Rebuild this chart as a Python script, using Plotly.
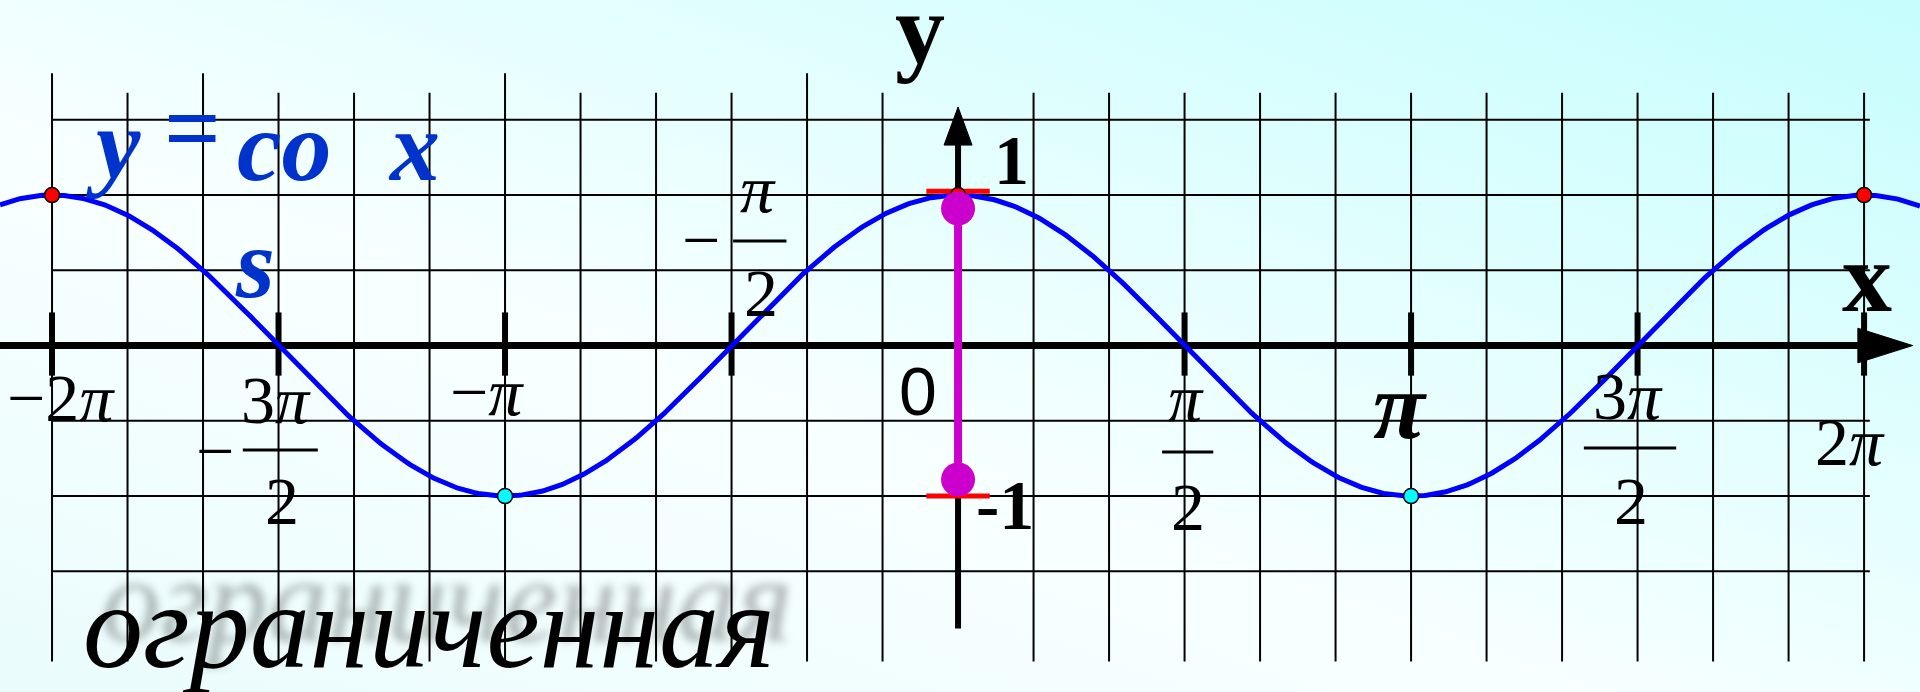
import base64

import numpy as np
import plotly.graph_objects as go


# ---------------------------------------------------
# Data
# ---------------------------------------------------

PI = np.pi

x_left, x_right = -6.644, 6.671
y_bottom, y_top = -2.302, 2.296

curve_x = np.linspace(x_left, x_right, 900)
curve_y = np.cos(curve_x)

max_x = [-2 * PI, 0, 2 * PI]
max_y = [1, 1, 1]
min_x = [-PI, PI]
min_y = [-1, -1]

# magenta segment showing the set of values
range_ends = [-0.89, 0.91]
bound_y = [-1.0, 1.025]

tick_pi = [-2, -1.5, -1, -0.5, 0.5, 1, 1.5, 2]
grid_k = [k for k in range(-12, 13) if k != 0]
grid_y = [-1.5, -1, -0.5, 0.5, 1, 1.5]
tall_k = [-12, -10, -6, -2]

SERIF = "Times New Roman"
BLUE = "#0000FF"
TITLE_BLUE = "#0033CC"
MAGENTA = "#CC00CC"

fig = go.Figure()


def seg(xs, ys, color="black", width=2):
    fig.add_trace(go.Scatter(
        x=xs, y=ys, mode="lines",
        line=dict(color=color, width=width),
        hoverinfo="skip"
    ))


def tri(xs, ys):
    fig.add_trace(go.Scatter(
        x=xs, y=ys, mode="lines", fill="toself",
        fillcolor="black", line=dict(color="black", width=1),
        hoverinfo="skip"
    ))


def txt(x, y, text, size, family=SERIF, color="black", **kw):
    fig.add_annotation(
        x=x, y=y, xref="x", yref="y", text=text, showarrow=False,
        xanchor="center", yanchor="middle",
        font=dict(family=family, size=size, color=color, **kw)
    )


# ---------------------------------------------------
# Grid
# ---------------------------------------------------

vx, vy = [], []
for k in grid_k:
    top = 1.81 if k in tall_k else 1.68
    vx += [k * PI / 6, k * PI / 6, None]
    vy += [-2.10, top, None]
seg(vx, vy)

hx, hy = [], []
for g in grid_y:
    hx += [-2 * PI, 2 * PI + 0.04, None]
    hy += [g, g, None]
seg(hx, hy)

# ---------------------------------------------------
# Axes
# ---------------------------------------------------

seg([x_left, 6.24], [0, 0], width=7)
tri([6.24, 6.62, 6.24, 6.24], [0.115, 0, -0.115, 0.115])

tx, ty = [], []
for t in tick_pi:
    tx += [t * PI, t * PI, None]
    ty += [-0.2, 0.22, None]
seg(tx, ty, width=6)

seg([0, 0], [-1.88, 1.34], width=6)
tri([-0.097, 0, 0.097, -0.097], [1.332, 1.585, 1.332, 1.332])

# ---------------------------------------------------
# Curve and points
# ---------------------------------------------------

seg(curve_x, curve_y, color=BLUE, width=5)

for b in bound_y:
    seg([-0.22, 0.22], [b, b], color="red", width=5)

fig.add_trace(go.Scatter(
    x=max_x, y=max_y, mode="markers",
    marker=dict(size=15, color="red", line=dict(color="black", width=1.5)),
    hoverinfo="skip"
))
fig.add_trace(go.Scatter(
    x=min_x, y=min_y, mode="markers",
    marker=dict(size=15, color="cyan", line=dict(color="black", width=1.5)),
    hoverinfo="skip"
))

fig.add_trace(go.Scatter(
    x=[0, 0], y=range_ends, mode="lines+markers",
    line=dict(color=MAGENTA, width=8),
    marker=dict(size=34, color=MAGENTA),
    hoverinfo="skip"
))

# ---------------------------------------------------
# Tick labels
# ---------------------------------------------------

PI_I = "<i>π</i>"
LS = 68


def bar(x0, x1, y):
    fig.add_shape(type="line", xref="x", yref="y", x0=x0, x1=x1, y0=y, y1=y,
                  line=dict(color="black", width=3))


txt(-6.22, -0.35, "−2" + PI_I, LS)

txt(-5.15, -0.70, "−", LS)
txt(-4.73, -0.36, "3" + PI_I, LS)
bar(-4.96, -4.44, -0.694)
txt(-4.69, -1.03, "2", LS)

txt(-3.27, -0.31, "−" + PI_I, LS)

txt(-1.78, 0.70, "−", LS)
txt(-1.39, 1.037, PI_I, LS)
bar(-1.56, -1.19, 0.694)
txt(-1.37, 0.35, "2", LS)

txt(-0.28, -0.30, "0", LS, family="Liberation Sans")

txt(1.58, -0.35, PI_I, LS)
bar(1.415, 1.77, -0.708)
txt(1.595, -1.07, "2", LS)

txt(3.065, -0.40, "<b><i>π</i></b>", 95)

txt(4.646, -0.335, "3" + PI_I, LS)
bar(4.34, 4.98, -0.68)
txt(4.667, -1.03, "2", LS)

txt(6.186, -0.64, "2" + PI_I, LS)

txt(0.374, 1.23, "<b>1</b>", 70)
txt(0.326, -1.06, "<b>-1</b>", 70)

txt(-0.264, 2.10, "<b>y</b>", 100)
txt(6.30, 0.455, "<b>x</b>", 100)

# ---------------------------------------------------
# Formula and caption
# ---------------------------------------------------

txt(-5.857, 1.335, "<b><i>y</i></b>", 100, color=TITLE_BLUE)
txt(-5.309, 1.44, "<b>=</b>", 100, color=TITLE_BLUE)
txt(-4.674, 1.322, "<b><i>co</i></b>", 100, color=TITLE_BLUE)
txt(-3.776, 1.322, "<b><i>x</i></b>", 100, color=TITLE_BLUE)
txt(-4.875, 0.542, "<b><i>s</i></b>", 100, color=TITLE_BLUE)

txt(-3.668, -1.867, "<i>ограниченная</i>", 120,
    shadow="18px -26px 8px rgba(0,0,0,0.28)")

# ---------------------------------------------------
# Background and layout
# ---------------------------------------------------

svg = (
    '<svg xmlns="http://www.w3.org/2000/svg" width="1920" height="692">'
    '<defs><linearGradient id="g" x1="0" y1="1" x2="1" y2="0">'
    '<stop offset="0" stop-color="#eafcfc"/>'
    '<stop offset="0.4" stop-color="#f8ffff"/>'
    '<stop offset="1" stop-color="#c6fdfd"/>'
    '</linearGradient></defs>'
    '<rect width="1920" height="692" fill="url(#g)"/></svg>'
)
bg = "data:image/svg+xml;base64," + base64.b64encode(svg.encode()).decode()

fig.add_layout_image(
    source=bg, xref="paper", yref="paper", x=0, y=1,
    sizex=1, sizey=1, xanchor="left", yanchor="top",
    sizing="stretch", layer="below"
)

fig.update_layout(
    width=1920,
    height=692,
    margin=dict(l=0, r=0, t=0, b=0),
    showlegend=False,
    paper_bgcolor="#f0fefe",
    plot_bgcolor="rgba(0,0,0,0)",
    xaxis=dict(range=[x_left, x_right], visible=False, fixedrange=True),
    yaxis=dict(range=[y_bottom, y_top], visible=False, fixedrange=True),
)

fig.write_html("out.html", post_script="document.body.style.margin = '0';",
               config={"displayModeBar": False})
